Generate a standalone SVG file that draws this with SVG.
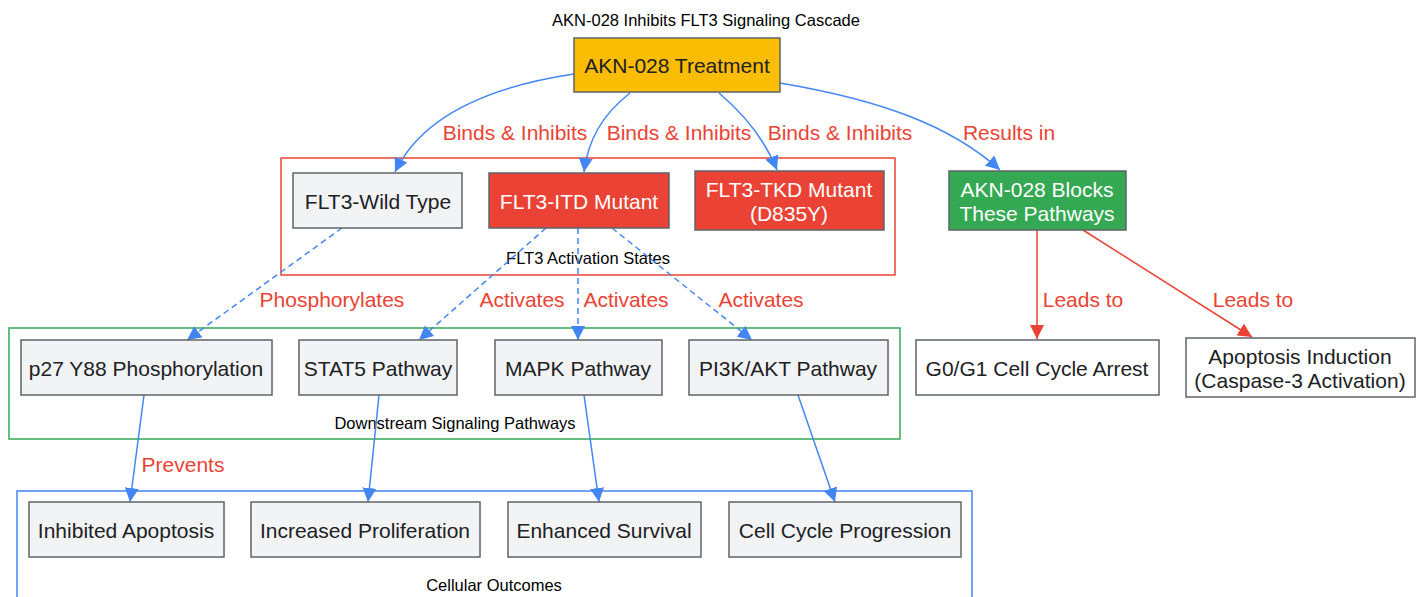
<svg xmlns="http://www.w3.org/2000/svg" width="1425" height="597" viewBox="0 0 1425 597">
<defs>
<marker id="ab" viewBox="0 0 10 10" refX="10" refY="5" markerWidth="14" markerHeight="14" markerUnits="userSpaceOnUse" orient="auto"><path d="M0,0 L10,5 L0,10 z" fill="#4285F4"/></marker>
<marker id="ar" viewBox="0 0 10 10" refX="10" refY="5" markerWidth="14" markerHeight="14" markerUnits="userSpaceOnUse" orient="auto"><path d="M0,0 L10,5 L0,10 z" fill="#EA4335"/></marker>
<style>
text{font-family:"Liberation Sans",Arial,sans-serif;}
.n{stroke:#5f6368;stroke-width:1.5;}
.g{fill:#f1f3f4;}
.w{fill:#ffffff;}
.t{font-size:21px;fill:#202124;text-anchor:middle;}
.tw{font-size:21px;fill:#ffffff;text-anchor:middle;}
.cl{font-size:16.5px;fill:#000;text-anchor:middle;}
.el{font-size:21px;fill:#EA4335;text-anchor:middle;}
.eb{fill:none;stroke:#4285F4;stroke-width:1.5;}
.ed{stroke-dasharray:6,4;}
.er{fill:none;stroke:#EA4335;stroke-width:1.5;}
</style>
</defs>
<rect width="1425" height="597" fill="#ffffff"/>
<text class="cl" x="706" y="26">AKN-028 Inhibits FLT3 Signaling Cascade</text>

<g id="clusters">
<rect x="281" y="158" width="614" height="117" fill="none" stroke="#EA4335" stroke-width="1.5"/>
<text class="cl" x="588" y="264">FLT3 Activation States</text>
<rect x="9" y="328" width="891" height="111" fill="none" stroke="#34A853" stroke-width="1.5"/>
<text class="cl" x="455" y="429">Downstream Signaling Pathways</text>
<rect x="17" y="491" width="955" height="120" fill="none" stroke="#4285F4" stroke-width="1.5"/>
<text class="cl" x="494" y="591">Cellular Outcomes</text>
</g>

<g id="connectors">
<path class="eb" d="M574,74 C480,88 420,120 395,172" marker-end="url(#ab)"/>
<path class="eb" d="M630,93 C602,115 588,140 584,172" marker-end="url(#ab)"/>
<path class="eb" d="M719,93 C745,115 765,140 777,170" marker-end="url(#ab)"/>
<path class="eb" d="M780,83 C880,100 950,125 1000,170" marker-end="url(#ab)"/>
<path class="er" d="M1037,230 L1037,339" marker-end="url(#ar)"/>
<path class="er" d="M1083,230 L1252,337" marker-end="url(#ar)"/>
<path class="eb ed" d="M342,228 L187,340" marker-end="url(#ab)"/>
<path class="eb ed" d="M546,228 L419,340" marker-end="url(#ab)"/>
<path class="eb ed" d="M578,228 L578,340" marker-end="url(#ab)"/>
<path class="eb ed" d="M612,228 L752,340" marker-end="url(#ab)"/>
<path class="eb" d="M144,395 L130,502" marker-end="url(#ab)"/>
<path class="eb" d="M379,395 L368,502" marker-end="url(#ab)"/>
<path class="eb" d="M584,395 L599,502" marker-end="url(#ab)"/>
<path class="eb" d="M798,395 L835,502" marker-end="url(#ab)"/>
<text class="el" x="515" y="140">Binds &amp; Inhibits</text>
<text class="el" x="679" y="140">Binds &amp; Inhibits</text>
<text class="el" x="840" y="140">Binds &amp; Inhibits</text>
<text class="el" x="1009" y="140">Results in</text>
<text class="el" x="1083" y="307">Leads to</text>
<text class="el" x="1253" y="307">Leads to</text>
<text class="el" x="332" y="307">Phosphorylates</text>
<text class="el" x="522" y="307">Activates</text>
<text class="el" x="626" y="307">Activates</text>
<text class="el" x="761" y="307">Activates</text>
<text class="el" x="183" y="472">Prevents</text>
</g>

<g id="treatment"><rect class="n" x="574" y="38" width="206" height="54" fill="#FBBC04"/><text class="t" x="677" y="73">AKN-028 Treatment</text></g>
<g id="wt"><rect class="n g" x="293" y="173" width="169" height="55"/><text class="t" x="378" y="209">FLT3-Wild Type</text></g>
<g id="itd"><rect class="n" x="489" y="173" width="180" height="55" fill="#EA4335"/><text class="tw" x="579" y="209">FLT3-ITD Mutant</text></g>
<g id="tkd"><rect class="n" x="695" y="171" width="189" height="59" fill="#EA4335"/><text class="tw" x="789" y="197">FLT3-TKD Mutant</text><text class="tw" x="789" y="221">(D835Y)</text></g>
<g id="blocks"><rect class="n" x="949" y="171" width="177" height="59" fill="#34A853"/><text class="tw" x="1037" y="197">AKN-028 Blocks</text><text class="tw" x="1037" y="221">These Pathways</text></g>
<g id="g0g1"><rect class="n w" x="916" y="340" width="243" height="55"/><text class="t" x="1037" y="376">G0/G1 Cell Cycle Arrest</text></g>
<g id="apoptosis"><rect class="n w" x="1186" y="338" width="229" height="59"/><text class="t" x="1300" y="364">Apoptosis Induction</text><text class="t" x="1300" y="388">(Caspase-3 Activation)</text></g>
<g id="p27"><rect class="n g" x="21" y="340" width="251" height="55"/><text class="t" x="146" y="376">p27 Y88 Phosphorylation</text></g>
<g id="stat5"><rect class="n g" x="299" y="340" width="158" height="55"/><text class="t" x="378" y="376">STAT5 Pathway</text></g>
<g id="mapk"><rect class="n g" x="495" y="340" width="167" height="55"/><text class="t" x="578" y="376">MAPK Pathway</text></g>
<g id="pi3k"><rect class="n g" x="689" y="340" width="199" height="55"/><text class="t" x="788" y="376">PI3K/AKT Pathway</text></g>
<g id="inhapop"><rect class="n g" x="29" y="502" width="195" height="55"/><text class="t" x="126" y="538">Inhibited Apoptosis</text></g>
<g id="prolif"><rect class="n g" x="251" y="502" width="229" height="55"/><text class="t" x="365" y="538">Increased Proliferation</text></g>
<g id="survival"><rect class="n g" x="508" y="502" width="193" height="55"/><text class="t" x="604" y="538">Enhanced Survival</text></g>
<g id="cellcycle"><rect class="n g" x="729" y="502" width="232" height="55"/><text class="t" x="845" y="538">Cell Cycle Progression</text></g>
</svg>
